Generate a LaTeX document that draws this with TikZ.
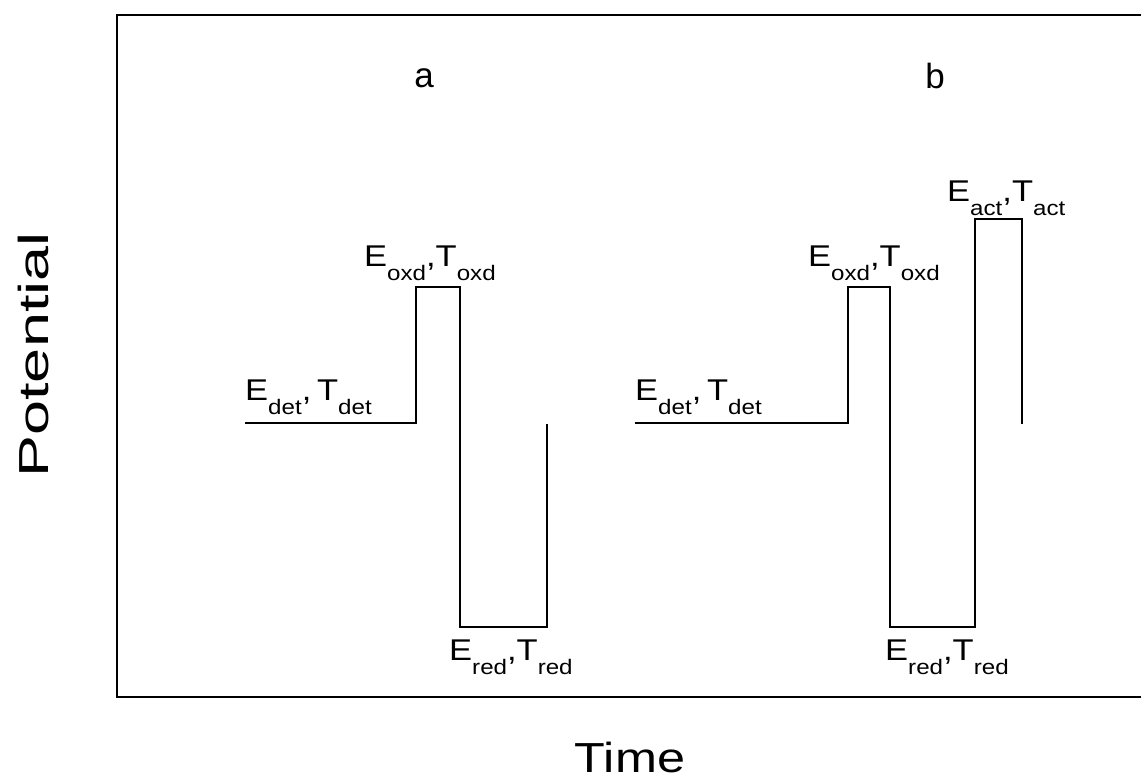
\documentclass[tikz,border=0pt]{standalone}
\usepackage{fontspec}
\setmainfont{Liberation Sans}
\newcommand{\sbx}[1]{\raisebox{-14pt}{\fontsize{21}{21}\selectfont #1}}
\newcommand{\lbl}[2]{\scalebox{1.15}[1]{E\sbx{#1},T\sbx{#2}}}
\newcommand{\lbs}[2]{\scalebox{1.15}[1]{E\sbx{#1},\,T\sbx{#2}}}
\begin{document}
\begin{tikzpicture}[x=1pt,y=-1pt,
  trace/.style={line width=2.4pt,line join=miter},
  frame/.style={line width=2.8pt},
  sub/.style={font=\fontsize{30}{30}\selectfont,inner sep=0pt,anchor=base west},
  panel/.style={font=\fontsize{35}{35}\selectfont,inner sep=0pt},
  axis/.style={font=\fontsize{42}{42}\selectfont,inner sep=0pt}]
\useasboundingbox (0,0) rectangle (1141,783);
% frame (right side cut off)
\draw[frame] (1145,15) -- (117,15) -- (117,697) -- (1145,697);
% panel a
\coordinate (a0) at (245,423);
\coordinate (a1) at (416,423);
\coordinate (a2) at (416,287);
\coordinate (a3) at (460,287);
\coordinate (a4) at (460,627);
\coordinate (a5) at (547,627);
\coordinate (a6) at (547,424);
\draw[trace] (a0) -- (a1) -- (a2) -- (a3) -- (a4) -- (a5) -- (a6);
% panel b
\coordinate (b0) at (635,423);
\coordinate (b1) at (848,423);
\coordinate (b2) at (848,287);
\coordinate (b3) at (890,287);
\coordinate (b4) at (890,627);
\coordinate (b5) at (975,627);
\coordinate (b6) at (975,219);
\coordinate (b7) at (1022,219);
\coordinate (b8) at (1022,424);
\draw[trace] (b0) -- (b1) -- (b2) -- (b3) -- (b4) -- (b5) -- (b6) -- (b7) -- (b8);
% labels
\node[sub] (adet) at (245,401) {\lbs{det}{det}};
\node[sub] (aoxd) at (364,267) {\lbl{oxd}{oxd}};
\node[sub] (ared) at (449,660) {\lbl{red}{red}};
\node[sub] (bdet) at (635,401) {\lbs{det}{det}};
\node[sub] (boxd) at (808,267) {\lbl{oxd}{oxd}};
\node[sub] (bred) at (885,660) {\lbl{red}{red}};
\node[sub] (bact) at (947,202) {\lbl{act}{act}};
\node[panel] (pa) at (424,78) {a};
\node[panel] (pb) at (935,76) {b};
\node[axis,rotate=90] (ylab) at (33,355) {\scalebox{1.5}[1]{Potential}};
\node[axis] (xlab) at (630,757) {\scalebox{1.2}[1]{Time}};
\end{tikzpicture}
\end{document}
